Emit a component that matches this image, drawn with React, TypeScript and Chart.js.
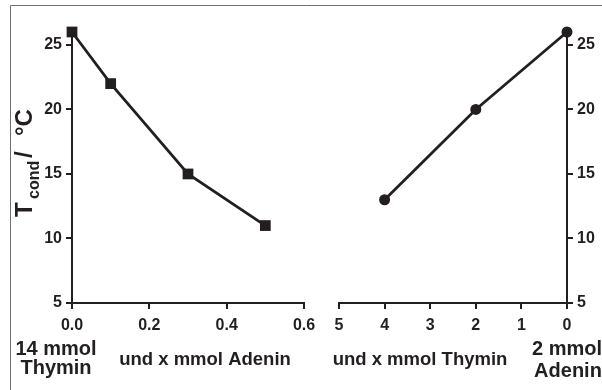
import React, { useEffect, useRef } from "react";
import { Chart, registerables } from "chart.js";

Chart.register(...registerables);

// Left panel: 14 mmol thymine with added adenine (mmol)
const adeninAdded = [0, 0.1, 0.3, 0.5];
const tcondWithAdenin = [26, 22, 15, 11];

// Right panel: 2 mmol adenine with added thymine (mmol), axis runs 5 → 0
const thyminAdded = [4, 2, 0];
const tcondWithThymin = [13, 20, 26];

const yTicks = [5, 10, 15, 20, 25];
const leftXTicks = [0, 0.2, 0.4, 0.6];
const rightXTicks = [0, 1, 2, 3, 4, 5];

const Y_MIN = 5;
const Y_MAX = 26;

const INK = "#231f20";
const FAMILY = '"Liberation Sans", Arial, Helvetica, sans-serif';
const W = 602;
const H = 390;

function yAxis(position: "left" | "right", width: number) {
  return {
    type: "linear",
    position,
    min: Y_MIN,
    max: Y_MAX,
    afterBuildTicks: (s: any) => {
      s.ticks = yTicks.map((v) => ({ value: v }));
    },
    afterFit: (s: any) => {
      s.width = width;
    },
    grid: { drawOnChartArea: false, drawTicks: true, tickLength: 6, color: INK, lineWidth: 2 },
    border: { display: true, color: INK, width: 2 },
    ticks: {
      color: INK,
      padding: 4,
      font: { family: FAMILY, size: 16, weight: "bold" },
      callback: (v: any) => String(v),
    },
  };
}

function xAxis(min: number, max: number, tickValues: number[], reverse: boolean, fmt: (v: number) => string) {
  return {
    type: "linear",
    position: "bottom",
    min,
    max,
    reverse,
    afterBuildTicks: (s: any) => {
      s.ticks = tickValues.map((v) => ({ value: v }));
    },
    afterFit: (s: any) => {
      s.height = 87;
    },
    grid: { drawOnChartArea: false, drawTicks: true, tickLength: 6, color: INK, lineWidth: 2 },
    border: { display: true, color: INK, width: 2 },
    ticks: {
      color: INK,
      padding: 7,
      maxRotation: 0,
      autoSkip: false,
      font: { family: FAMILY, size: 16, weight: "bold" },
      callback: (v: any) => fmt(Number(v)),
    },
  };
}

// Frame, y-axis title and the composition captions under both panels
const captionPlugin = {
  id: "captions",
  afterDraw(chart: any) {
    const ctx = chart.ctx as CanvasRenderingContext2D;
    ctx.save();

    ctx.strokeStyle = "#6f6f6f";
    ctx.lineWidth = 1;
    ctx.beginPath();
    ctx.moveTo(W, 5.5);
    ctx.lineTo(10.5, 5.5);
    ctx.lineTo(10.5, H);
    ctx.stroke();

    ctx.fillStyle = INK;
    ctx.textBaseline = "alphabetic";

    // T_cond / °C, rotated
    ctx.save();
    ctx.translate(32, 217);
    ctx.rotate(-Math.PI / 2);
    ctx.textAlign = "left";
    ctx.font = `bold 24px ${FAMILY}`;
    ctx.fillText("T", 0, 0);
    ctx.font = `bold 16px ${FAMILY}`;
    ctx.fillText("cond", 18, 7);
    ctx.font = `bold 24px ${FAMILY}`;
    ctx.fillText("/", 59, 0);
    ctx.fillText("°C", 81, 0);
    ctx.restore();

    ctx.textAlign = "center";
    ctx.font = `bold 20px ${FAMILY}`;
    ctx.fillText("14 mmol", 56, 355);
    ctx.fillText("Thymin", 56, 374);
    ctx.fillText("2 mmol", 567, 355);
    ctx.fillText("Adenin", 568, 377);

    ctx.font = `bold 18.5px ${FAMILY}`;
    ctx.fillText("und x mmol Adenin", 205, 365);
    ctx.fillText("und x mmol Thymin", 420, 365);

    ctx.restore();
  },
};

export default function App() {
  const leftRef = useRef<HTMLCanvasElement | null>(null);
  const rightRef = useRef<HTMLCanvasElement | null>(null);

  useEffect(() => {
    if (!leftRef.current || !rightRef.current) return;

    const common = {
      animation: false,
      responsive: false,
      maintainAspectRatio: false,
      devicePixelRatio: 1,
      plugins: { legend: { display: false }, tooltip: { enabled: false } },
    };

    const left = new Chart(leftRef.current, {
      type: "line",
      data: {
        datasets: [
          {
            data: adeninAdded.map((x, i) => ({ x, y: tcondWithAdenin[i] })),
            borderColor: INK,
            borderWidth: 2.8,
            backgroundColor: INK,
            pointStyle: "rect",
            pointRadius: 7.6,
            pointBorderWidth: 0,
            pointBackgroundColor: INK,
            clip: false,
          },
        ],
      },
      options: {
        ...common,
        layout: { padding: { left: 0, top: 32, right: W - 304, bottom: 0 } },
        scales: {
          x: xAxis(0, 0.6, leftXTicks, false, (v) => v.toFixed(1)),
          y: yAxis("left", 72),
        },
      },
      plugins: [captionPlugin],
    } as any);

    const right = new Chart(rightRef.current, {
      type: "line",
      data: {
        datasets: [
          {
            data: thyminAdded.map((x, i) => ({ x, y: tcondWithThymin[i] })),
            borderColor: INK,
            borderWidth: 2.8,
            backgroundColor: INK,
            pointStyle: "circle",
            pointRadius: 5.5,
            pointBorderWidth: 0,
            pointBackgroundColor: INK,
            clip: false,
          },
        ],
      },
      options: {
        ...common,
        layout: { padding: { left: 339, top: 32, right: 0, bottom: 0 } },
        scales: {
          x: xAxis(0, 5, rightXTicks, true, (v) => String(v)),
          y: yAxis("right", 35),
        },
      },
    } as any);

    return () => {
      left.destroy();
      right.destroy();
    };
  }, []);

  const canvasStyle: React.CSSProperties = {
    position: "absolute",
    left: 0,
    top: 0,
    width: W,
    height: H,
  };

  return (
    <div style={{ position: "absolute", left: 0, top: 0, width: W, height: H, background: "#ffffff", overflow: "hidden" }}>
      <canvas ref={leftRef} width={W} height={H} style={canvasStyle} />
      <canvas ref={rightRef} width={W} height={H} style={canvasStyle} />
    </div>
  );
}
